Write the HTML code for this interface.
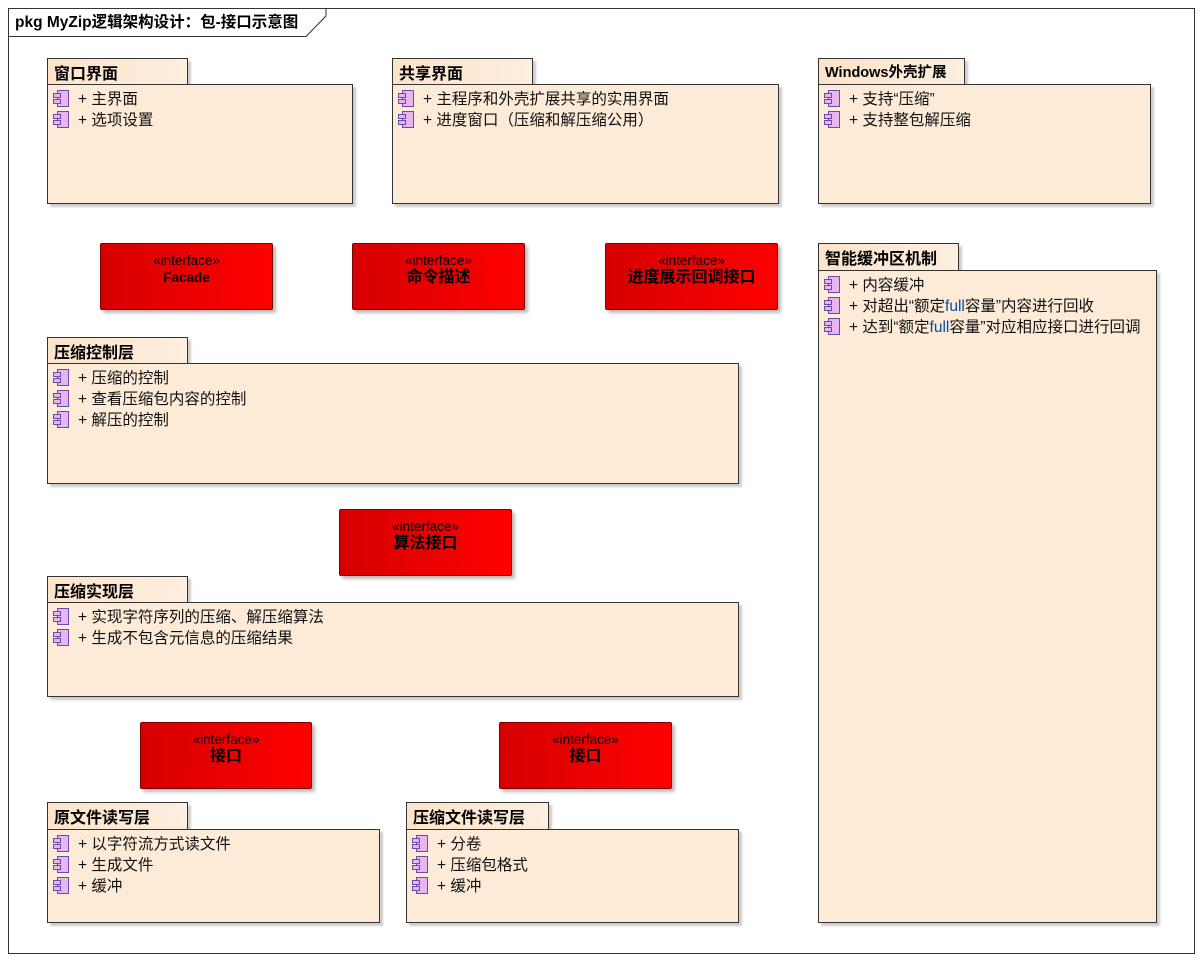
<!DOCTYPE html>
<html><head><meta charset="utf-8"><style>
body{margin:0;width:1202px;height:961px;background:#fff;position:relative;font-family:"Liberation Sans","Noto Sans CJK SC",sans-serif;overflow:hidden}
.a{position:absolute;box-sizing:border-box}
.frame{left:8px;top:8px;width:1187px;height:946px;border:1px solid #333}
.tab{border:1px solid #333;background:linear-gradient(90deg,#fde3c9,#fdeedf);font-weight:bold;font-size:16px;padding:1px 0 0 6px;box-shadow:3px 3px 2px #ccc;white-space:nowrap}
.bd{border:1px solid #333;background:#fdebd7;box-shadow:3px 3px 2px #ccc;padding-top:4px}
.it{height:21px;font-size:15.5px;line-height:21px;padding-left:9px;white-space:nowrap;color:#111}
.ic{display:inline-block;width:10px;height:15px;border:1.5px solid #6a4ca8;background:#e9b5f0;vertical-align:-3px;margin-right:9px;position:relative}
.ic:before,.ic:after{content:"";position:absolute;left:-5px;width:6px;height:3px;border:1.5px solid #6a4ca8;background:#e9b5f0}
.ic:before{top:2px}.ic:after{top:8px}
.if{border:1px solid #700;border-radius:2px;background:linear-gradient(90deg,#d60000,#ff0000);text-align:center;box-shadow:3px 3px 3px #bbb}
.if .s{font-size:13.5px;margin-top:9px;line-height:15px}
.if .n{font-size:16px;font-weight:bold;line-height:20px}
.f{color:#0050a0}
</style></head><body>
<div class="a frame"></div>
<svg class="a" style="left:8px;top:8px" width="320" height="30"><path d="M0.5 28.5 H298 L318 8 V0" fill="none" stroke="#333"/></svg>
<div class="a" style="left:15px;top:10px;font-size:15.5px;font-weight:bold;white-space:nowrap">pkg MyZip逻辑架构设计：包-接口示意图</div>

<div class="a tab" style="left:47px;top:58px;width:141px;height:27px">窗口界面</div>
<div class="a bd" style="left:47px;top:84px;width:306px;height:120px"><div class="it"><span class="ic"></span>+ 主界面</div><div class="it"><span class="ic"></span>+ 选项设置</div></div>

<div class="a tab" style="left:392px;top:58px;width:141px;height:27px">共享界面</div>
<div class="a bd" style="left:392px;top:84px;width:387px;height:120px"><div class="it"><span class="ic"></span>+ 主程序和外壳扩展共享的实用界面</div><div class="it"><span class="ic"></span>+ 进度窗口（压缩和解压缩公用）</div></div>

<div class="a tab" style="left:818px;top:58px;width:147px;height:27px;font-size:14.5px;padding-top:2px">Windows外壳扩展</div>
<div class="a bd" style="left:818px;top:84px;width:333px;height:120px"><div class="it"><span class="ic"></span>+ 支持“压缩”</div><div class="it"><span class="ic"></span>+ 支持整包解压缩</div></div>

<div class="a tab" style="left:818px;top:243px;width:141px;height:28px">智能缓冲区机制</div>
<div class="a bd" style="left:818px;top:270px;width:339px;height:653px"><div class="it"><span class="ic"></span>+ 内容缓冲</div><div class="it"><span class="ic"></span>+ 对超出“额定<span class="f">full</span>容量”内容进行回收</div><div class="it"><span class="ic"></span>+ 达到“额定<span class="f">full</span>容量”对应相应接口进行回调</div></div>

<div class="a tab" style="left:47px;top:337px;width:141px;height:27px">压缩控制层</div>
<div class="a bd" style="left:47px;top:363px;width:692px;height:121px"><div class="it"><span class="ic"></span>+ 压缩的控制</div><div class="it"><span class="ic"></span>+ 查看压缩包内容的控制</div><div class="it"><span class="ic"></span>+ 解压的控制</div></div>

<div class="a tab" style="left:47px;top:576px;width:141px;height:27px">压缩实现层</div>
<div class="a bd" style="left:47px;top:602px;width:692px;height:95px"><div class="it"><span class="ic"></span>+ 实现字符序列的压缩、解压缩算法</div><div class="it"><span class="ic"></span>+ 生成不包含元信息的压缩结果</div></div>

<div class="a tab" style="left:47px;top:802px;width:141px;height:28px">原文件读写层</div>
<div class="a bd" style="left:47px;top:829px;width:333px;height:94px"><div class="it"><span class="ic"></span>+ 以字符流方式读文件</div><div class="it"><span class="ic"></span>+ 生成文件</div><div class="it"><span class="ic"></span>+ 缓冲</div></div>

<div class="a tab" style="left:406px;top:802px;width:143px;height:28px">压缩文件读写层</div>
<div class="a bd" style="left:406px;top:829px;width:333px;height:94px"><div class="it"><span class="ic"></span>+ 分卷</div><div class="it"><span class="ic"></span>+ 压缩包格式</div><div class="it"><span class="ic"></span>+ 缓冲</div></div>

<div class="a if" style="left:100px;top:243px;width:173px;height:67px"><div class="s">«interface»</div><div class="n" style="font-size:13.5px">Facade</div></div>
<div class="a if" style="left:352px;top:243px;width:173px;height:67px"><div class="s">«interface»</div><div class="n">命令描述</div></div>
<div class="a if" style="left:605px;top:243px;width:173px;height:67px"><div class="s">«interface»</div><div class="n">进度展示回调接口</div></div>
<div class="a if" style="left:339px;top:509px;width:173px;height:67px"><div class="s">«interface»</div><div class="n">算法接口</div></div>
<div class="a if" style="left:140px;top:722px;width:172px;height:67px"><div class="s">«interface»</div><div class="n">接口</div></div>
<div class="a if" style="left:499px;top:722px;width:173px;height:67px"><div class="s">«interface»</div><div class="n">接口</div></div>
</body></html>
